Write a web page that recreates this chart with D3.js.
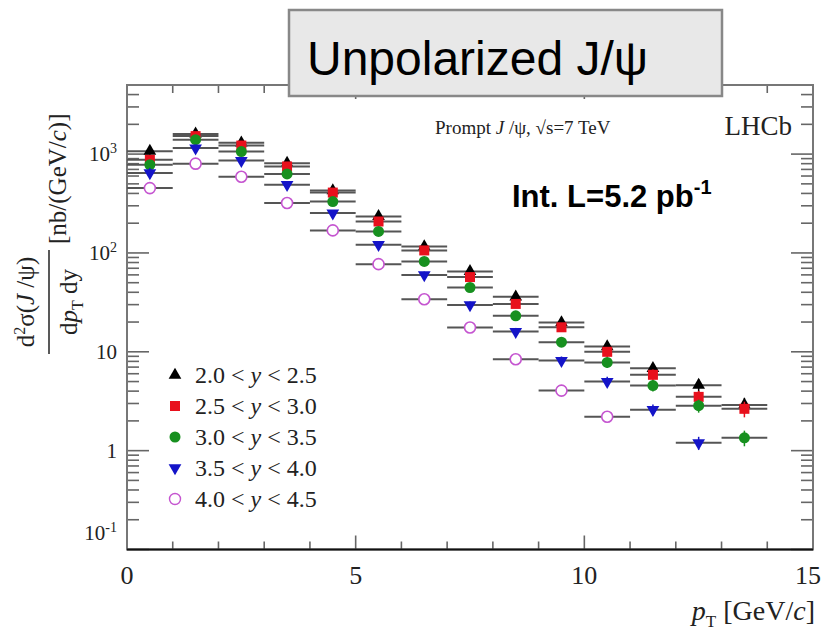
<!DOCTYPE html>
<html>
<head>
<meta charset="utf-8">
<script src="https://d3js.org/d3.v7.min.js"></script>
<style>
  body { margin: 0; background: #fff; }
  svg { display: block; }
</style>
</head>
<body>
<script>
// Chart Params
var svgWidth = 823;
var svgHeight = 636;

var margin = { top: 85, right: 10, bottom: 86.5, left: 127 };
var width = svgWidth - margin.left - margin.right;
var height = svgHeight - margin.top - margin.bottom;

// Data
var binCenters = [0.5, 1.5, 2.5, 3.5, 4.5, 5.5, 6.5, 7.5, 8.5, 9.5, 10.5, 11.5, 12.5, 13.5];
var binHalfWidth = 0.5;

var y20_25 = [1070, 1600, 1300, 810, 428, 234, 116, 65, 36, 19.8, 11.3, 6.8, 4.6, 2.9];
var y25_30 = [875, 1520, 1220, 750, 408, 208, 106, 57, 30.5, 17.7, 10.0, 5.85, 3.5, 2.65];
var y30_35 = [780, 1400, 1060, 630, 331, 165, 82, 44.7, 23.1, 12.5, 7.8, 4.55, 2.85, 1.35];
var y35_40 = [645, 1150, 860, 490, 253, 121, 60, 29.8, 16.0, 8.15, 5.0, 2.6, 1.2, null];
var y40_45 = [453, 800, 590, 320, 169, 77, 34, 17.6, 8.4, 4.05, 2.2, null, null, null];

// rough relative size of the small vertical error bars, per bin
var errFrac = [0.12, 0.08, 0.07, 0.07, 0.07, 0.07, 0.08, 0.08, 0.09, 0.1, 0.12, 0.13, 0.15, 0.18];

var seriesNames = ["2.0 < y < 2.5", "2.5 < y < 3.0", "3.0 < y < 3.5", "3.5 < y < 4.0", "4.0 < y < 4.5"];
var seriesValues = [y20_25, y25_30, y30_35, y35_40, y40_45];
var seriesColors = ["#000000", "#e8101c", "#17901f", "#1414c8", "#c555d0"];
var seriesShapes = ["triangle", "square", "circle", "invtriangle", "opencircle"];

var yTickValues = [0.1, 1, 10, 100, 1000];
var yTickBase = ["10", "1", "10", "10", "10"];
var yTickExp = ["-1", "", "", "2", "3"];
var xTickValues = [0, 5, 10, 15];

var svg = d3.select("body")
  .append("svg")
  .attr("width", svgWidth)
  .attr("height", svgHeight);

var chartGroup = svg.append("g")
  .attr("transform", `translate(${margin.left}, ${margin.top})`);

// Scales
// ==============================
var xScale = d3.scaleLinear()
  .domain([0, 15])
  .range([0, width]);

var yScale = d3.scaleLog()
  .domain([0.1, 5000])
  .range([height, 0]);

// Ticks (ROOT style: inside, on all four sides)
// ==============================
var minorY = [];
for (var dec = 0.1; dec < 5000; dec *= 10) {
  for (var k = 2; k <= 9; k++) {
    var v = dec * k;
    if (v <= 5000) minorY.push(v);
  }
}
var minorX = d3.range(0, 16, 1).filter(d => d % 5 !== 0);

var tickColor = "#666";
var ticks = chartGroup.append("g").attr("stroke", tickColor).attr("stroke-width", 1.6);

ticks.selectAll(".ymajL").data(yTickValues).enter().append("line")
  .attr("x1", 0).attr("x2", 22)
  .attr("y1", d => yScale(d)).attr("y2", d => yScale(d));
ticks.selectAll(".yminL").data(minorY).enter().append("line")
  .attr("x1", 0).attr("x2", 12)
  .attr("y1", d => yScale(d)).attr("y2", d => yScale(d));
ticks.selectAll(".ymajR").data(yTickValues).enter().append("line")
  .attr("x1", width).attr("x2", width - 22)
  .attr("y1", d => yScale(d)).attr("y2", d => yScale(d));
ticks.selectAll(".yminR").data(minorY).enter().append("line")
  .attr("x1", width).attr("x2", width - 12)
  .attr("y1", d => yScale(d)).attr("y2", d => yScale(d));

ticks.selectAll(".xmajB").data(xTickValues).enter().append("line")
  .attr("x1", d => xScale(d)).attr("x2", d => xScale(d))
  .attr("y1", height).attr("y2", height - 14);
ticks.selectAll(".xminB").data(minorX).enter().append("line")
  .attr("x1", d => xScale(d)).attr("x2", d => xScale(d))
  .attr("y1", height).attr("y2", height - 8);
ticks.selectAll(".xmajT").data(xTickValues).enter().append("line")
  .attr("x1", d => xScale(d)).attr("x2", d => xScale(d))
  .attr("y1", 0).attr("y2", 14);
ticks.selectAll(".xminT").data(minorX).enter().append("line")
  .attr("x1", d => xScale(d)).attr("x2", d => xScale(d))
  .attr("y1", 0).attr("y2", 8);

// Frame
chartGroup.append("rect")
  .attr("x", 0).attr("y", 0)
  .attr("width", width).attr("height", height)
  .attr("fill", "none")
  .attr("stroke", "#777")
  .attr("stroke-width", 2);
chartGroup.append("line")
  .attr("x1", 0).attr("x2", width)
  .attr("y1", height).attr("y2", height)
  .attr("stroke", "#111").attr("stroke-width", 2);

// Tick labels
// ==============================
var serif = "'Liberation Serif', 'DejaVu Serif', serif";

var yLabels = chartGroup.selectAll(".ylab").data(yTickValues).enter().append("text")
  .attr("x", -10)
  .attr("y", (d, i) => yScale(d) + (i === 0 ? -10 : 7))
  .attr("text-anchor", "end")
  .attr("font-family", serif)
  .attr("font-size", "21px")
  .attr("fill", "#222");
yLabels.append("tspan").text((d, i) => yTickBase[i]);
yLabels.append("tspan")
  .attr("dy", "-8")
  .attr("font-size", "14px")
  .text((d, i) => yTickExp[i]);

// last label kept inside the page edge
chartGroup.selectAll(".xlab").data(xTickValues).enter().append("text")
  .attr("x", (d, i) => i === xTickValues.length - 1 ? xScale(d) + 8 : xScale(d))
  .attr("y", height + 34)
  .attr("text-anchor", (d, i) => i === xTickValues.length - 1 ? "end" : "middle")
  .attr("font-family", serif)
  .attr("font-size", "26px")
  .attr("fill", "#222")
  .text(d => d);

// Data points
// ==============================
var symbol = {
  triangle: d3.symbol().type(d3.symbolTriangle).size(70),
  invtriangle: d3.symbol().type(d3.symbolTriangle).size(70),
  square: d3.symbol().type(d3.symbolSquare).size(100),
  circle: d3.symbol().type(d3.symbolCircle).size(95),
  opencircle: d3.symbol().type(d3.symbolCircle).size(95)
};

seriesValues.forEach(function(vals, s) {
  var pts = binCenters.map((x, i) => ({ x: x, v: vals[i], e: errFrac[i] }))
    .filter(d => d.v !== null);
  var g = chartGroup.append("g");

  // horizontal (bin width) bars
  g.selectAll(".hbar").data(pts).enter().append("line")
    .attr("x1", d => xScale(d.x - binHalfWidth))
    .attr("x2", d => xScale(d.x + binHalfWidth))
    .attr("y1", d => yScale(d.v))
    .attr("y2", d => yScale(d.v))
    .attr("stroke", "#555")
    .attr("stroke-width", 2);

  // vertical error bars
  g.selectAll(".vbar").data(pts).enter().append("line")
    .attr("x1", d => xScale(d.x))
    .attr("x2", d => xScale(d.x))
    .attr("y1", d => yScale(d.v * (1 + d.e)))
    .attr("y2", d => yScale(d.v * (1 - d.e)))
    .attr("stroke", seriesColors[s])
    .attr("stroke-width", 1.5);

  var open = seriesShapes[s] === "opencircle";
  g.selectAll(".mark").data(pts).enter().append("path")
    .attr("d", symbol[seriesShapes[s]])
    .attr("transform", d => `translate(${xScale(d.x)}, ${yScale(d.v)})` +
      (seriesShapes[s] === "invtriangle" ? " rotate(180)" : ""))
    .attr("fill", open ? "#fff" : seriesColors[s])
    .attr("stroke", open ? seriesColors[s] : "none")
    .attr("stroke-width", 1.6);
});

// Legend
// ==============================
var legend = chartGroup.append("g")
  .attr("transform", `translate(${175 - margin.left}, ${375 - margin.top})`);

seriesNames.forEach(function(name, s) {
  var row = legend.append("g").attr("transform", `translate(0, ${s * 31})`);
  var open = seriesShapes[s] === "opencircle";
  row.append("path")
    .attr("d", symbol[seriesShapes[s]])
    .attr("transform", seriesShapes[s] === "invtriangle" ? "rotate(180)" : null)
    .attr("fill", open ? "#fff" : seriesColors[s])
    .attr("stroke", open ? seriesColors[s] : "none")
    .attr("stroke-width", 1.4);
  var parts = name.split("y");
  var t = row.append("text")
    .attr("x", 20).attr("y", 8)
    .attr("font-family", serif)
    .attr("font-size", "24px")
    .attr("fill", "#222");
  t.append("tspan").text(parts[0]);
  t.append("tspan").attr("font-style", "italic").text("y");
  t.append("tspan").text(parts[1]);
});

// In-plot captions
// ==============================
var prompt = chartGroup.append("text")
  .attr("x", 435 - margin.left)
  .attr("y", 134 - margin.top)
  .attr("font-family", serif)
  .attr("font-size", "19px")
  .attr("fill", "#222");
prompt.append("tspan").text("Prompt ");
prompt.append("tspan").attr("font-style", "italic").text("J");
prompt.append("tspan").text(" /ψ, √s=7 TeV");

chartGroup.append("text")
  .attr("x", 792 - margin.left)
  .attr("y", 135 - margin.top)
  .attr("text-anchor", "end")
  .attr("font-family", serif)
  .attr("font-size", "27px")
  .attr("fill", "#222")
  .text("LHCb");

var lumi = chartGroup.append("text")
  .attr("x", 512 - margin.left)
  .attr("y", 207 - margin.top)
  .attr("font-family", "'Liberation Sans', Arial, sans-serif")
  .attr("font-weight", "bold")
  .attr("font-size", "31px")
  .attr("fill", "#000");
lumi.append("tspan").text("Int. L=5.2 pb");
lumi.append("tspan").attr("dy", "-13").attr("font-size", "20px").text("-1");

// Axis titles
// ==============================
var xTitle = svg.append("text")
  .attr("x", 815)
  .attr("y", 620)
  .attr("text-anchor", "end")
  .attr("font-family", serif)
  .attr("font-size", "28px")
  .attr("fill", "#222");
xTitle.append("tspan").attr("font-style", "italic").text("p");
xTitle.append("tspan").attr("dy", "7").attr("font-size", "17px").text("T");
xTitle.append("tspan").attr("dy", "-7").text(" [GeV/");
xTitle.append("tspan").attr("font-style", "italic").text("c");
xTitle.append("tspan").text("]");

// rotated y title: local x = -screenY, local y = screenX
var yTitle = svg.append("g").attr("transform", "rotate(-90)");

var num = yTitle.append("text")
  .attr("x", -302).attr("y", 34)
  .attr("text-anchor", "middle")
  .attr("font-family", serif)
  .attr("font-size", "25px")
  .attr("fill", "#222");
num.append("tspan").text("d");
num.append("tspan").attr("dy", "-9").attr("font-size", "16px").text("2");
num.append("tspan").attr("dy", "9").text("σ(");
num.append("tspan").attr("font-style", "italic").text("J");
num.append("tspan").text(" /ψ)");

yTitle.append("line")
  .attr("x1", -354).attr("x2", -250)
  .attr("y1", 49).attr("y2", 49)
  .attr("stroke", "#222").attr("stroke-width", 1.5);

var den = yTitle.append("text")
  .attr("x", -302).attr("y", 77)
  .attr("text-anchor", "middle")
  .attr("font-family", serif)
  .attr("font-size", "25px")
  .attr("fill", "#222");
den.append("tspan").text("d");
den.append("tspan").attr("font-style", "italic").text("p");
den.append("tspan").attr("dy", "6").attr("font-size", "16px").text("T");
den.append("tspan").attr("dy", "-6").text(" dy");

var unit = yTitle.append("text")
  .attr("x", -244).attr("y", 66)
  .attr("font-family", serif)
  .attr("font-size", "25px")
  .attr("fill", "#222");
unit.append("tspan").text("[nb/(GeV/");
unit.append("tspan").attr("font-style", "italic").text("c");
unit.append("tspan").text(")]");

// Title box on top
// ==============================
svg.append("rect")
  .attr("x", 289).attr("y", 10)
  .attr("width", 433).attr("height", 86)
  .attr("fill", "#e8e8e8")
  .attr("stroke", "#888")
  .attr("stroke-width", 2.5);

var title = svg.append("text")
  .attr("x", 307).attr("y", 75)
  .attr("font-family", "'Liberation Sans', Arial, sans-serif")
  .attr("font-size", "48px")
  .attr("fill", "#000");
title.text("Unpolarized J/ψ");
</script>
</body>
</html>
